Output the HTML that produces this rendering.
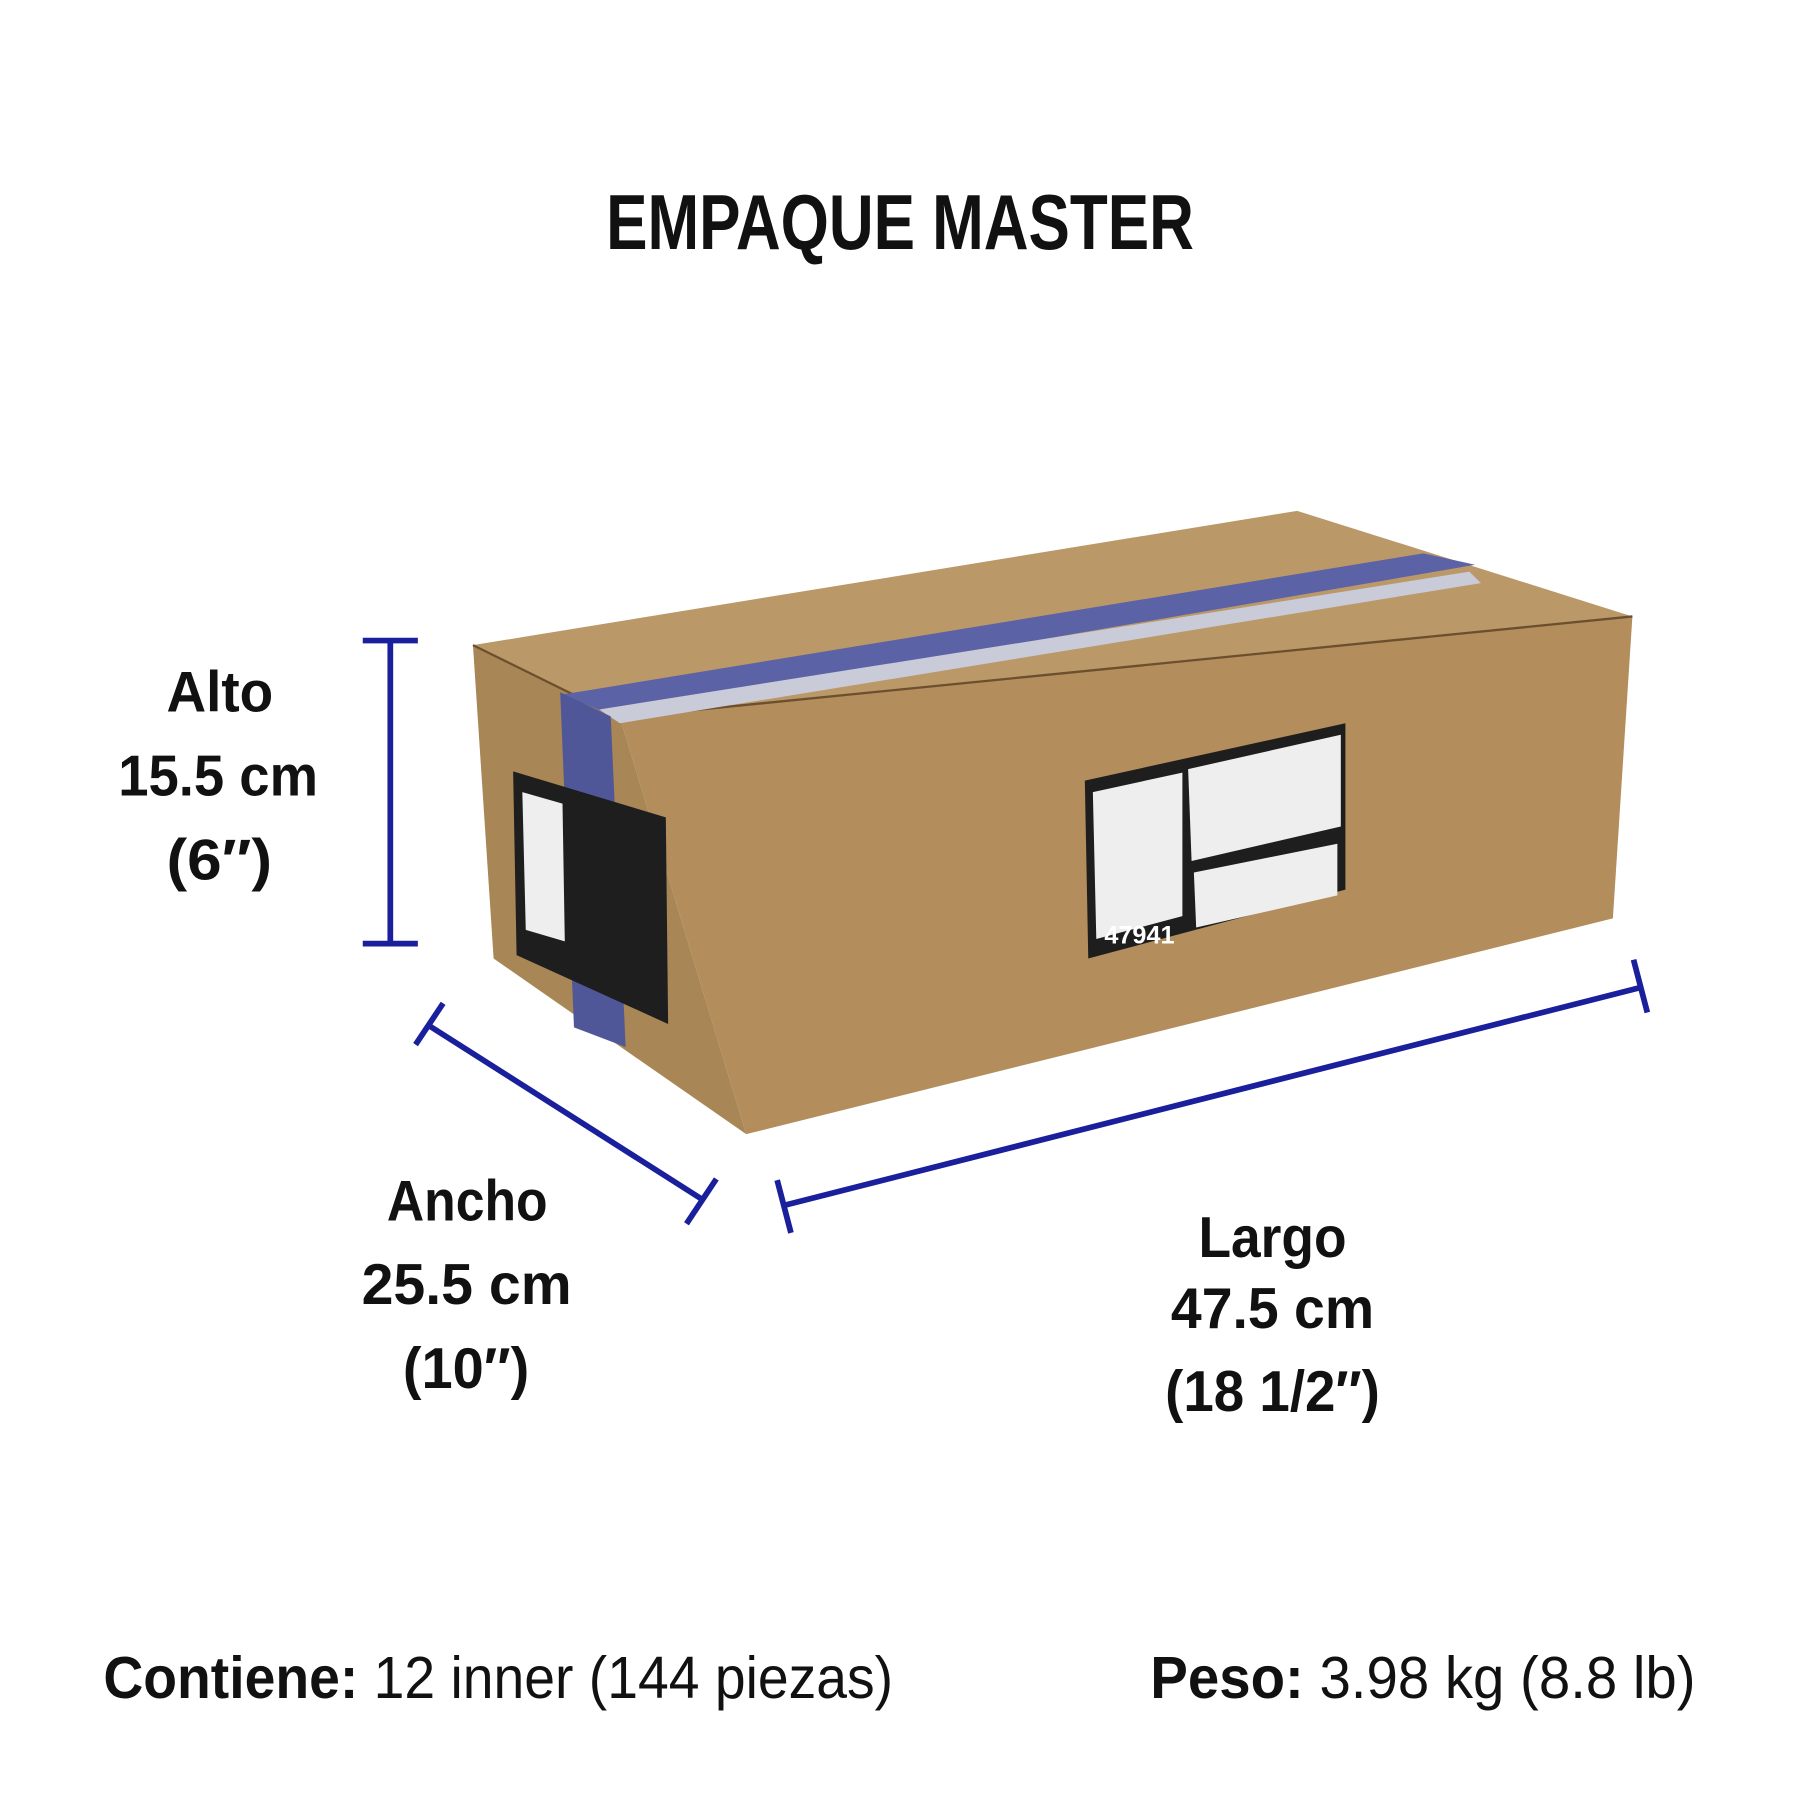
<!DOCTYPE html>
<html><head><meta charset="utf-8"><style>
html,body{margin:0;padding:0;background:#fff;}
svg{display:block}
text{font-family:"Liberation Sans",sans-serif;font-weight:bold;fill:#111}
</style></head><body>
<svg width="1800" height="1800" viewBox="0 0 1568 1568" xmlns="http://www.w3.org/2000/svg">
<rect width="1568" height="1568" fill="#fff"/>
<text x="528" y="217" font-size="68" textLength="512" lengthAdjust="spacingAndGlyphs">EMPAQUE MASTER</text>
<!-- box -->
<polygon points="412,562 1130,445 1422,537 540,625" fill="#bb9868"/>
<polygon points="540,625 1422,537 1405,800 650,988" fill="#b38d5c"/>
<polygon points="412,562 540,625 650,988 430,835" fill="#a98655"/>
<polyline points="412,562 540,625 1422,537" fill="none" stroke="#6b4f2e" stroke-width="2"/>
<!-- tape -->
<polygon points="490,605 1240,482 1285,492 530,622" fill="#5b62a6"/>
<polygon points="522,618 1280,498 1290,508 540,630" fill="#c9cbd8"/>
<polygon points="488,603 532,624 545,912 500,895" fill="#4f5799"/>
<!-- front label -->
<polygon points="945,680 1172,630 1172,775 948,835" fill="#1e1e1e"/>
<polygon points="952,690 1030,673 1030,798 955,818" fill="#eee"/>
<polygon points="1035,670 1168,640 1168,720 1038,750" fill="#eee"/>
<polygon points="1040,760 1165,735 1165,780 1042,808" fill="#eee"/>
<text x="962" y="822" font-size="22" style="fill:#fff">47941</text>
<!-- left label -->
<polygon points="447,672 580,712 582,892 450,832" fill="#1e1e1e"/>
<polygon points="455,690 490,700 492,820 458,810" fill="#eee"/>
<!-- dimension lines -->
<g stroke="#1a1f9c" stroke-width="5" fill="none">
<line x1="340" y1="558" x2="340" y2="822"/>
<line x1="316" y1="558" x2="364" y2="558"/>
<line x1="316" y1="822" x2="364" y2="822"/>
<line x1="373" y1="893" x2="612" y2="1045"/>
<line x1="362" y1="910" x2="386" y2="874"/>
<line x1="598" y1="1066" x2="624" y2="1027"/>
<line x1="683" y1="1050" x2="1430" y2="860"/>
<line x1="677" y1="1028" x2="689" y2="1074"/>
<line x1="1423" y1="836" x2="1435" y2="882"/>
</g>
<g font-size="50" lengthAdjust="spacingAndGlyphs">
<text x="145" y="620" textLength="93" lengthAdjust="spacingAndGlyphs">Alto</text>
<text x="103" y="693" textLength="174" lengthAdjust="spacingAndGlyphs">15.5 cm</text>
<text x="145" y="766" textLength="92" lengthAdjust="spacingAndGlyphs" font-weight="normal">(6″)</text>
<text x="337" y="1063" textLength="140" lengthAdjust="spacingAndGlyphs">Ancho</text>
<text x="315" y="1136" textLength="183" lengthAdjust="spacingAndGlyphs">25.5 cm</text>
<text x="351" y="1209" textLength="110" lengthAdjust="spacingAndGlyphs" font-weight="normal">(10″)</text>
<text x="1044" y="1095" textLength="129" lengthAdjust="spacingAndGlyphs">Largo</text>
<text x="1020" y="1157" textLength="177" lengthAdjust="spacingAndGlyphs">47.5 cm</text>
<text x="1015" y="1229" textLength="187" lengthAdjust="spacingAndGlyphs" font-weight="normal">(18 1/2″)</text>
</g>
<text x="90" y="1479" font-size="52" textLength="688" lengthAdjust="spacingAndGlyphs">Contiene: <tspan font-weight="normal">12 inner (144 piezas)</tspan></text>
<text x="1002" y="1479" font-size="52" textLength="475" lengthAdjust="spacingAndGlyphs">Peso: <tspan font-weight="normal">3.98 kg (8.8 lb)</tspan></text>
</svg>
</body></html>
